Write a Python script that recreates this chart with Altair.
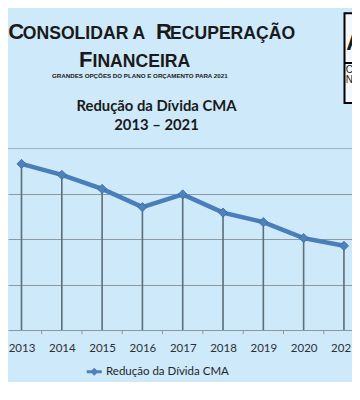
import altair as alt
import pandas as pd

# ---- data ----
anos = [2013, 2014, 2015, 2016, 2017, 2018, 2019, 2020, 2021]
divida = [36.5, 34.1, 31.0, 27.0, 29.8, 25.8, 23.7, 20.2, 18.5]
serie_nome = "Redução da Dívida CMA"
grid_vals = [10, 20, 30]
titulo_l1 = "Redução da Dívida CMA"
titulo_l2 = "2013 – 2021"

df = pd.DataFrame({"ano": anos, "valor": divida, "serie": [serie_nome] * len(anos)})

W, H = 344, 182
BG = "#cde9fa"
LINE = "#4a7ebb"

xscale = alt.Scale(domain=[2012.665, 2021.2], nice=False, zero=False)
yscale = alt.Scale(domain=[0, 40], nice=False, zero=True)

x_axis = alt.Axis(values=anos, format="d", title=None, grid=False, ticks=False,
                  domainColor="#8c989f", domainWidth=1, labelFont="Lato",
                  labelFontSize=11.5, labelColor="#303030", labelPadding=12,
                  labelFlush=False, labelOverlap=False)
y_axis = alt.Axis(values=grid_vals, grid=True, gridColor="#8d9aa2", gridWidth=1,
                  labels=False, ticks=False, domain=False, title=None)

x_enc = alt.X("ano:Q", scale=xscale, axis=x_axis)
y_enc = alt.Y("valor:Q", scale=yscale, axis=y_axis)

base = alt.Chart(df)

drop = base.mark_rule(color="#5c6e78", strokeWidth=1.6).encode(
    x=x_enc, y=y_enc, y2=alt.datum(0))

linha = base.mark_line(color=LINE, strokeWidth=4.5).encode(x=x_enc, y=y_enc)

LEG_PATH = "M-1.5,-0.3L1.5,-0.3L1.5,0.3L-1.5,0.3Z M0,-0.8L0.8,0L0,0.8L-0.8,0Z"

pontos = base.mark_point(filled=True, shape="diamond", size=85, opacity=1,
                         stroke="#3b6aa3", strokeWidth=0.8).encode(
    x=x_enc, y=y_enc,
    color=alt.Color("serie:N", scale=alt.Scale(range=["#4f81bd"]),
                    legend=alt.Legend(orient="none", legendX=80.5, legendY=218,
                                      title=None, symbolType=LEG_PATH, symbolSize=100,
                                      symbolStrokeWidth=0, labelFont="Lato",
                                      labelFontSize=11.5, labelColor="#262626",
                                      padding=0, labelOffset=6)))

ticks = base.transform_filter("datum.ano < 2021").transform_calculate(
    b="datum.ano + 0.5").mark_rule(color="#8c989f", strokeWidth=1).encode(
    x=alt.X("b:Q", scale=xscale, axis=x_axis), y=alt.value(H), y2=alt.value(H + 4))

one = pd.DataFrame({"k": [0]})
borda = alt.Chart(one).mark_rule(color="#a3b3bd", strokeWidth=1).encode(
    x=alt.value(0), x2=alt.value(W), y=alt.value(0.5))


def txt(s, x, y, size, font="Liberation Sans", weight="bold", align="left",
        color="#1a1a1a", baseline="alphabetic"):
    return alt.Chart(pd.DataFrame({"t": [s]})).mark_text(
        align=align, baseline=baseline, font=font, fontSize=size,
        fontWeight=weight, color=color).encode(
        text="t:N", x=alt.value(x), y=alt.value(y))


BIG, SMALL = 22, 17.6
cab = [
    txt("C", 0.3, -108.7, BIG),
    txt("ONSOLIDAR A", 14.8, -108.7, SMALL),
    txt("R", 148, -108.7, BIG),
    txt("ECUPERAÇÃO", 162, -108.7, SMALL),
    txt("F", 71, -81.3, BIG),
    txt("INANCEIRA", 84.5, -81.3, SMALL),
    txt("GRANDES OPÇÕES DO PLANO E ORÇAMENTO PARA 2021", 44, -70.5, 6.2),
    txt(titulo_l1, 148.5, -41.3, 14.8, font="Lato", align="center", baseline="middle"),
    txt(titulo_l2, 148.5, -22, 14.8, font="Lato", align="center", baseline="middle"),
]

caixa = alt.Chart(one).mark_rect(fill="#f3f8fc", stroke="#000000", strokeWidth=2).encode(
    x=alt.value(336.5), x2=alt.value(400), y=alt.value(-134.7), y2=alt.value(-45))
divisor = alt.Chart(one).mark_rule(color="#000000", strokeWidth=2).encode(
    x=alt.value(336.5), x2=alt.value(400), y=alt.value(-85))
caixa_txt = [
    txt("A", 338.3, -98, 23),
    txt("C", 337.8, -75.5, 10, weight="normal"),
    txt("N", 337.8, -65, 10, weight="normal"),
]

chart = alt.layer(
    borda, drop, ticks, linha, pontos, *cab, caixa, divisor, *caixa_txt
).properties(
    width=W, height=H,
    autosize=alt.AutoSizeParams(type="none"),
    padding={"left": 0, "top": 140, "right": 0, "bottom": 52},
    background=BG,
).configure_view(stroke=None)

chart.save("out.html", embed_options={"renderer": "svg", "actions": False})
